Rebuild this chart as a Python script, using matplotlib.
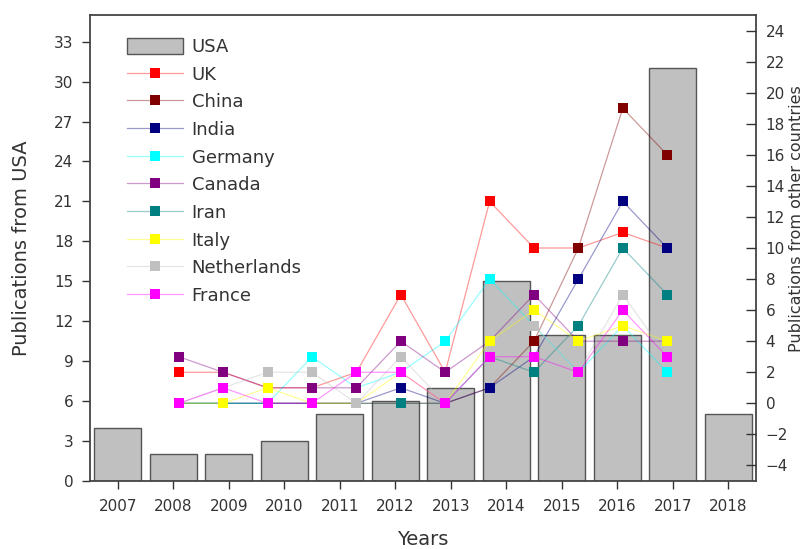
import matplotlib
matplotlib.use('Agg')
import matplotlib.pyplot as plt

plt.rcParams['font.family'] = ['DejaVu Sans']
plt.rcParams['text.color'] = '#333333'
plt.rcParams['axes.labelcolor'] = '#333333'
plt.rcParams['xtick.color'] = '#333333'
plt.rcParams['ytick.color'] = '#333333'

years = list(range(2007, 2019))
usa = [4, 2, 2, 3, 5, 6, 7, 15, 11, 11, 31, 5]

countries = ['UK', 'China', 'India', 'Germany', 'Canada', 'Iran', 'Italy', 'Netherlands', 'France']
uk = [2, 2, 1, 1, 2, 7, 2, 13, 10, 10, 11, 10]
china = [0, 0, 0, 0, 0, 0, 0, 1, 4, 10, 19, 16]
india = [0, 0, 0, 0, 0, 1, 0, 1, 3, 8, 13, 10]
germany = [0, 0, 0, 3, 1, 2, 4, 8, 5, 2, 5, 2]
canada = [3, 2, 1, 1, 1, 4, 2, 4, 7, 4, 4, 4]
iran = [0, 0, 0, 0, 0, 0, 0, 3, 2, 5, 10, 7]
italy = [0, 0, 1, 0, 0, 2, 0, 4, 6, 4, 5, 4]
netherlands = [0, 1, 2, 2, 0, 3, 0, 3, 5, 2, 7, 3]
france = [0, 1, 0, 0, 2, 2, 0, 3, 3, 2, 6, 3]

series = [uk, china, india, germany, canada, iran, italy, netherlands, france]
colors = ['#ff0000', '#800000', '#000080', '#00ffff', '#800080',
          '#008080', '#ffff00', '#c0c0c0', '#ff00ff']

fig = plt.figure(figsize=(8.06, 5.49), dpi=100)
pos = [90 / 806, 68 / 549, 666 / 806, 466 / 549]

# bars for USA on the left axis
ax = fig.add_axes(pos)
bars = ax.bar(years, usa, width=0.84, color='#c0c0c0', edgecolor='#555555',
              linewidth=1.0, label='USA')
ax.set_xlim(2006.5, 2018.5)
ax.set_ylim(0, 35)
ax.set_xticks(years)
ax.set_yticks(range(0, 34, 3))
ax.tick_params(axis='both', direction='out', length=6, width=1.0, labelsize=11)
ax.tick_params(axis='x', pad=7)
ax.tick_params(axis='y', pad=6)
for sp in ax.spines.values():
    sp.set_color('#444444')
    sp.set_linewidth(1.3)
ax.set_xlabel('Years', fontsize=14)
ax.set_ylabel('Publications from USA', fontsize=14)
ax.xaxis.set_label_coords(0.5, -0.105)
ax.yaxis.set_label_coords(-0.089, 0.5)

# other countries on a second, independent axis
ax2 = fig.add_axes(pos)
ax2.patch.set_visible(False)
for sp in ax2.spines.values():
    sp.set_visible(False)
ax2.set_xlim(2005, 2020)
ax2.set_ylim(-5, 25)
ax2.set_xticks([])
ax2.yaxis.tick_right()
ax2.yaxis.set_label_position('right')
ax2.set_yticks(range(-4, 25, 2))
ax2.tick_params(axis='y', direction='in', length=7, width=1.0, labelsize=11, pad=7)

lines = []
for name, vals, c in zip(countries, series, colors):
    rgba = matplotlib.colors.to_rgba(c, 0.4)
    ln, = ax2.plot(years, vals, color=rgba, linewidth=0.9, marker='s',
                   markersize=7.5, markerfacecolor=c, markeredgecolor=c,
                   markeredgewidth=0, label=name)
    lines.append(ln)

ax2.set_ylabel('Publications from other countries', fontsize=11.5)
ax2.yaxis.set_label_coords(1.0495, 0.564)

ax2.legend([bars] + lines, ['USA'] + countries, loc='upper left',
           bbox_to_anchor=(0.055, 0.951), frameon=False, fontsize=13,
           handlelength=3.1, handleheight=1.0, labelspacing=0.52,
           handletextpad=0.5, borderpad=0, borderaxespad=0)

fig.savefig('out.png', dpi=100)
